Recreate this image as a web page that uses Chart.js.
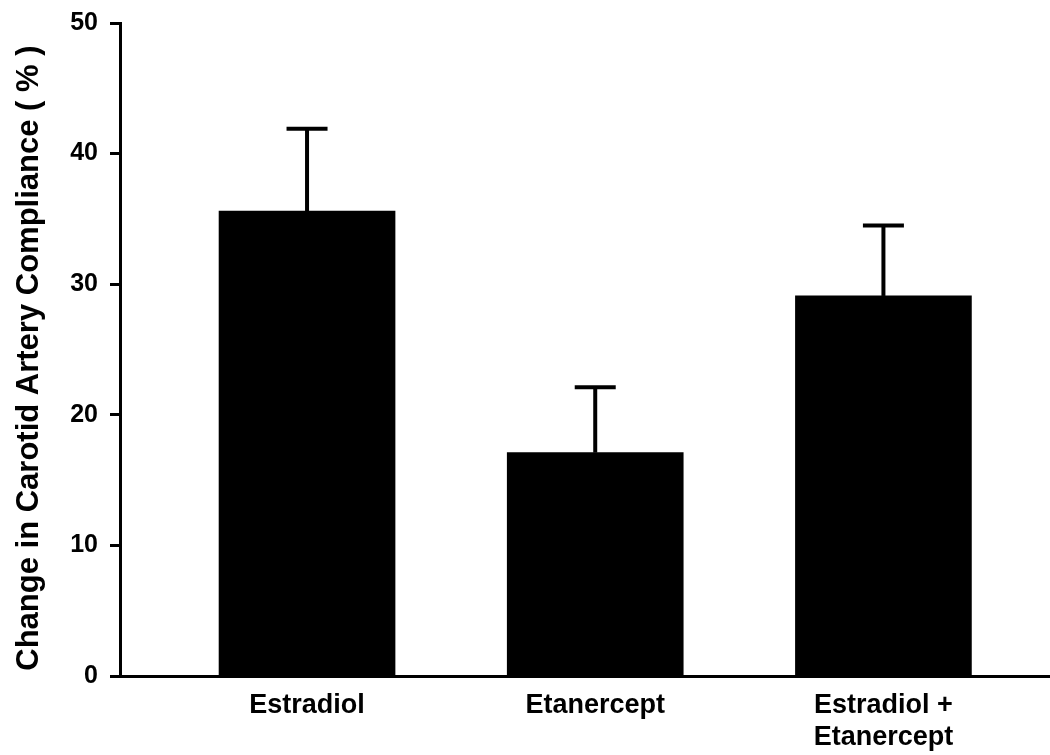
<!DOCTYPE html>
<html>
<head>
<meta charset="utf-8">
<script src="https://cdn.jsdelivr.net/npm/chart.js@4/dist/chart.umd.min.js"></script>
<style>
  html, body { margin: 0; padding: 0; background: #fff; }
  #wrap { width: 1050px; height: 755px; position: relative; }
</style>
</head>
<body>
<div id="wrap"><canvas id="c"></canvas></div>
<script>
// ---- data ----
const categories = [["Estradiol"], ["Etanercept"], ["Estradiol +", "Etanercept"]];
const positions = [1, 2, 3];
const meanChange = [35.6, 17.1, 29.1];
const semChange = [6.3, 5.0, 5.4];
const yTicks = [0, 10, 20, 30, 40, 50];
const yTitle = "Change in Carotid Artery Compliance ( % )  ";

const FONT = "'Liberation Sans', Arial, Helvetica, sans-serif";

const errorBars = {
  id: 'errorBars',
  afterDatasetsDraw(chart) {
    const meta = chart.getDatasetMeta(0);
    const ys = chart.scales.y;
    const ctx = chart.ctx;
    ctx.save();
    ctx.strokeStyle = '#000';
    ctx.lineCap = 'butt';
    meta.data.forEach((bar, i) => {
      const x = bar.x;
      const yBase = ys.getPixelForValue(meanChange[i]);
      const yTop = ys.getPixelForValue(meanChange[i] + semChange[i]);
      ctx.lineWidth = 4;
      ctx.beginPath();
      ctx.moveTo(x, yBase);
      ctx.lineTo(x, yTop);
      ctx.stroke();
      ctx.beginPath();
      ctx.moveTo(x - 20.5, yTop);
      ctx.lineTo(x + 20.5, yTop);
      ctx.stroke();
    });
    ctx.restore();
  }
};

new Chart(document.getElementById('c'), {
  type: 'bar',
  data: {
    datasets: [{
      data: positions.map((p, i) => ({ x: p, y: meanChange[i] })),
      backgroundColor: '#000',
      borderWidth: 0,
      barThickness: 176
    }]
  },
  options: {
    responsive: true,
    maintainAspectRatio: false,
    devicePixelRatio: 1,
    animation: false,
    layout: { padding: { top: 23, right: 0, bottom: 0, left: 0 } },
    plugins: {
      legend: { display: false },
      tooltip: { enabled: false },
      title: { display: false }
    },
    scales: {
      x: {
        type: 'linear',
        offset: false,
        min: 0.351,
        max: 3.578,
        afterBuildTicks(scale) {
          scale.ticks = positions.map(v => ({ value: v }));
        },
        afterFit(scale) { scale.height = 79; },
        grid: { display: true, drawOnChartArea: false, drawTicks: false, offset: false },
        border: { display: true, color: '#000', width: 3 },
        ticks: {
          autoSkip: false,
          maxRotation: 0,
          padding: 13,
          color: '#000',
          font: { family: FONT, size: 27, weight: 'bold', lineHeight: 1.2 },
          callback(value) {
            const idx = positions.indexOf(value);
            return idx >= 0 ? categories[idx] : '';
          }
        }
      },
      y: {
        min: 0,
        max: 50,
        afterBuildTicks(scale) {
          scale.ticks = yTicks.map(v => ({ value: v }));
        },
        afterFit(scale) {
          scale.width = 120;
          scale.paddingTop = 0;
          scale.paddingBottom = 0;
        },
        grid: {
          display: true,
          drawOnChartArea: false,
          drawTicks: true,
          tickLength: 10,
          tickWidth: 3,
          tickColor: '#000',
          color: '#000'
        },
        border: { display: true, color: '#000', width: 3 },
        ticks: {
          padding: 12,
          color: '#000',
          font: { family: FONT, size: 25, weight: 'bold' }
        },
        title: {
          display: true,
          text: yTitle,
          color: '#000',
          padding: { top: 11, bottom: 0 },
          font: { family: FONT, size: 31, weight: 'bold', lineHeight: 1.2 }
        }
      }
    }
  },
  plugins: [errorBars]
});
</script>
</body>
</html>
